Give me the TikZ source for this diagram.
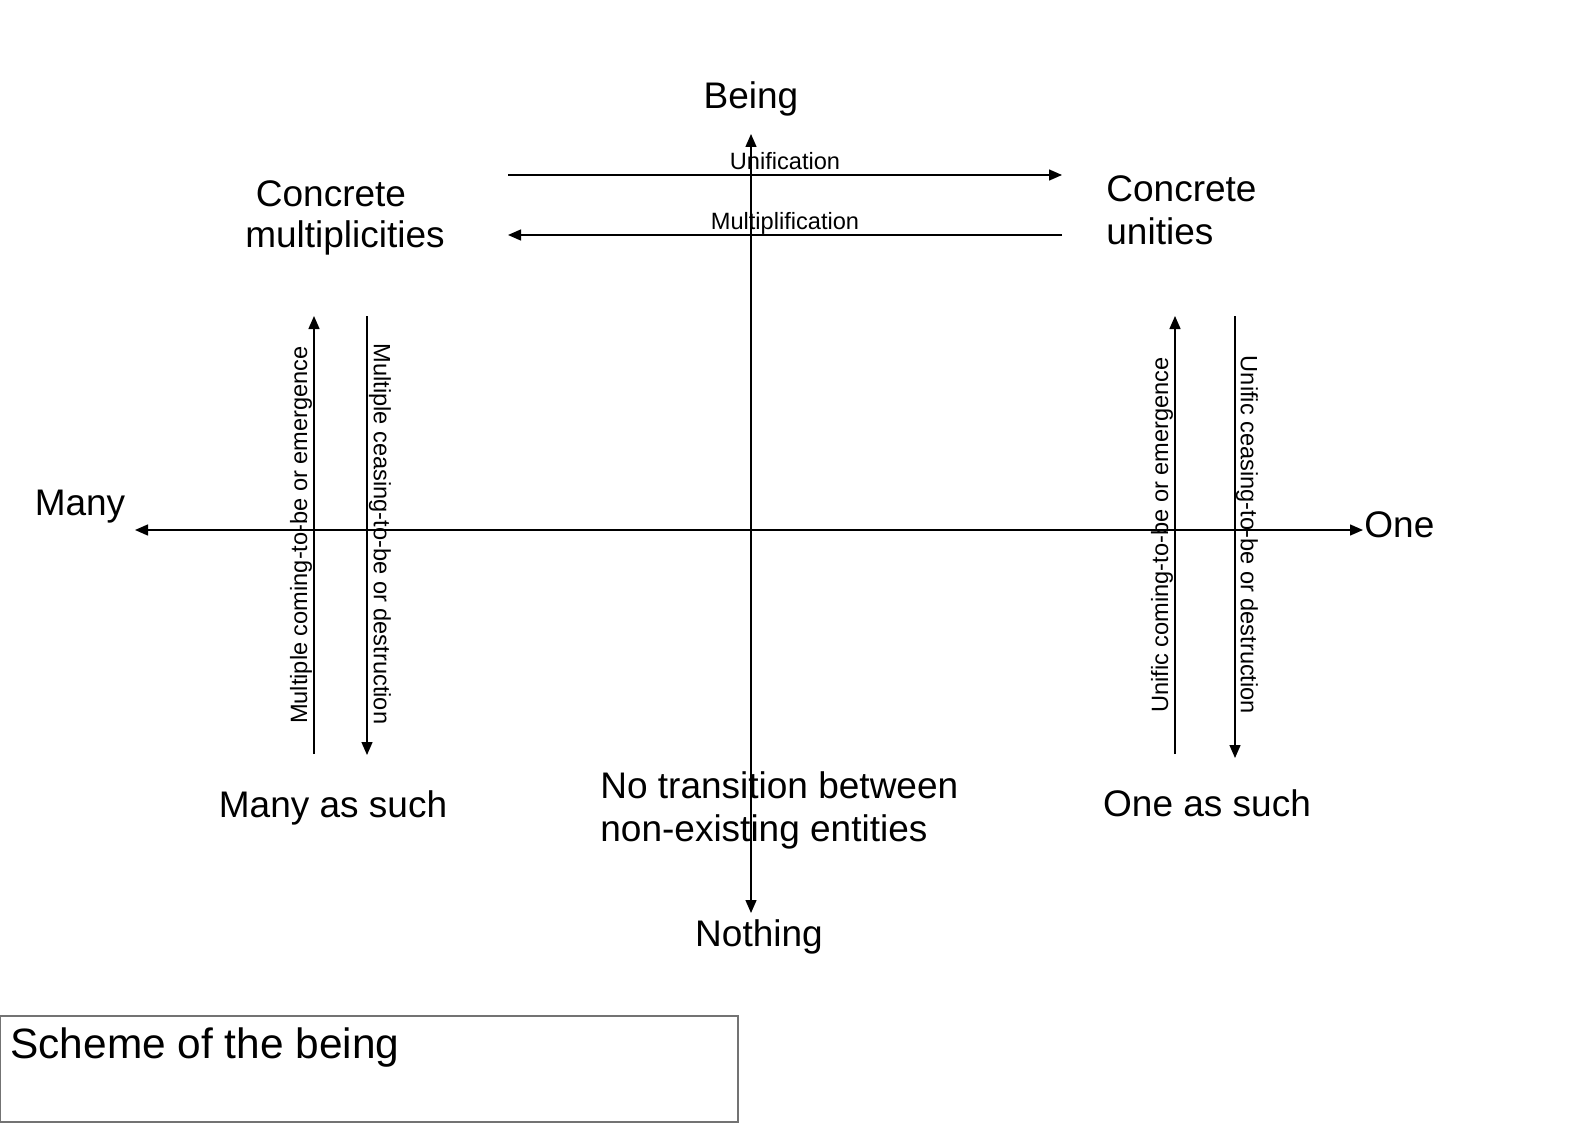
\documentclass[tikz,border=0pt]{standalone}
\usepackage{fontspec}
\setmainfont{Liberation Sans}
\usetikzlibrary{arrows.meta}
\begin{document}
\begin{tikzpicture}[x=0.5pt,y=-0.5pt,
  ln/.style={line width=0.7pt,draw=black},
  arr/.style={ln,-{Triangle[length=6.5pt,width=5.5pt]}},
  big/.style={font=\fontsize{18.5}{21.5}\selectfont,inner sep=0pt},
  small/.style={font=\fontsize{11.8}{14}\selectfont,inner sep=0pt},
  title/.style={font=\fontsize{21.2}{25}\selectfont,inner sep=0pt}]
\useasboundingbox (0,0) rectangle (1588,1123);
% axes
\coordinate (O) at (751,530);
\coordinate (tB) at (751,134);
\coordinate (tN) at (751,913);
\coordinate (tM) at (135,530);
\coordinate (tO) at (1363,530);
\draw[arr] (O) -- (tB);
\draw[arr] (O) -- (tN);
\draw[arr] (O) -- (tM);
\draw[arr] (O) -- (tO);
\node[big] (being) at (751,99) {Being};
\node[big] (nothing) at (759,937) {Nothing};
\node[big] (many) at (80,507) {Many};
\node[big,anchor=west] (one) at (1364,525) {One};
% horizontal arrows
\coordinate (u1) at (508,175);
\coordinate (u2) at (1062,175);
\coordinate (m1) at (1062,235);
\coordinate (m2) at (508,235);
\draw[arr] (u1) -- (u2);
\draw[arr] (m1) -- (m2);
\node[small] (unif) at (785,161) {Unification};
\node[small] (mult) at (785,223) {Multiplification};
% corner labels
\node[big,anchor=base] (cm1) at (331,206) {Concrete};
\node[big,anchor=base] (cm2) at (345,248) {multiplicities};
\node[big,align=left,anchor=west] (cu) at (1106,210) {Concrete\\unities};
\node[big] (mas) at (333,808) {Many as such};
\node[big] (oas) at (1207,803) {One as such};
\node[big,align=left,anchor=west] (nt) at (600,810) {No transition between\\non-existing entities};
% vertical arrows left
\coordinate (a1) at (314,754);
\coordinate (a2) at (314,316);
\coordinate (b1) at (367,316);
\coordinate (b2) at (367,755);
\draw[arr] (a1) -- (a2);
\draw[arr] (b1) -- (b2);
\node[small,rotate=90] (mce) at (301,535) {Multiple coming-to-be or emergence};
\node[small,rotate=-90] (mcd) at (380,534) {Multiple ceasing-to-be or destruction};
% vertical arrows right
\coordinate (c1) at (1175,754);
\coordinate (c2) at (1175,316);
\coordinate (d1) at (1235,316);
\coordinate (d2) at (1235,758);
\draw[arr] (c1) -- (c2);
\draw[arr] (d1) -- (d2);
\node[small,rotate=90] (uce) at (1162,535) {Unific coming-to-be or emergence};
\node[small,rotate=-90] (ucd) at (1247,535) {Unific ceasing-to-be or destruction};
% title box
\draw[draw=black!55,line width=0.6pt] (0.6,1016) rectangle (738,1122);
\node[title,anchor=west] (tt) at (10,1048) {Scheme of the being};
\end{tikzpicture}
\end{document}
